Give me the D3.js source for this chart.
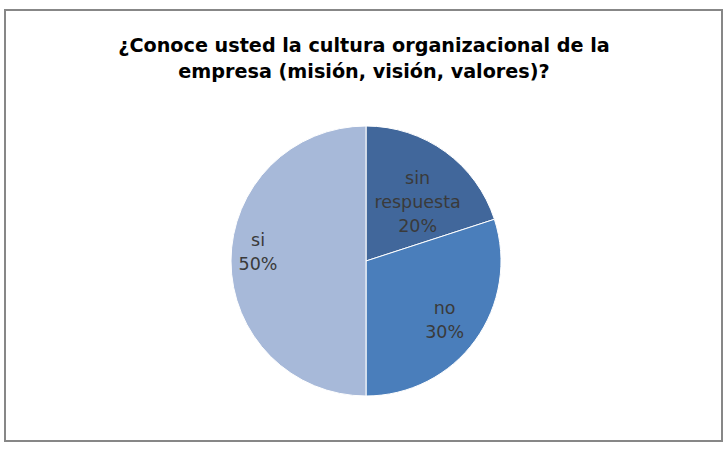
<!DOCTYPE html>
<html>
<head>
<meta charset="utf-8">
<script src="https://cdn.jsdelivr.net/npm/d3@7"></script>
<style>
  body { margin: 0; background: #fff; }
  text { font-family: "DejaVu Sans", sans-serif; }
</style>
</head>
<body>
<script>
// data
var categories = ["sin respuesta", "no", "si"];
var values = [20, 30, 50];
var labelLines = [["sin", "respuesta", "20%"], ["no", "30%"], ["si", "50%"]];
var colors = ["#41679b", "#4a7ebb", "#a7b9d9"];
var titleLines = ["¿Conoce usted la cultura organizacional de la", "empresa (misión, visión, valores)?"];

var width = 725, height = 452;
var cx = 366, cy = 261, radius = 135;
// where each label sits: fraction of the radius, and a small vertical nudge
var labelRadius = [0.65, 0.72, 0.8];
var labelNudge = [12, 2, -9];

var svg = d3.select("body").append("svg")
    .attr("width", width)
    .attr("height", height);

// chart border
svg.append("rect")
    .attr("x", 5).attr("y", 10)
    .attr("width", 717).attr("height", 431)
    .attr("fill", "#fff")
    .attr("stroke", "#878787")
    .attr("stroke-width", 2);

svg.selectAll(".title")
    .data(titleLines)
    .enter().append("text")
    .attr("class", "title")
    .attr("x", 364)
    .attr("y", function(d, i) { return 52 + i * 26; })
    .attr("text-anchor", "middle")
    .style("font-size", "19.2px")
    .style("font-weight", "bold")
    .attr("fill", "#000")
    .text(function(d) { return d; });

var pie = d3.pie().sort(null).value(function(d) { return d; });
var arcs = pie(values);

var arc = d3.arc().innerRadius(0).outerRadius(radius);

var g = svg.append("g").attr("transform", "translate(" + cx + "," + cy + ")");

g.selectAll("path")
    .data(arcs)
    .enter().append("path")
    .attr("d", arc)
    .attr("fill", function(d, i) { return colors[i]; })
    .attr("stroke", "#fff")
    .attr("stroke-width", 1);

var labels = g.selectAll(".lbl")
    .data(arcs)
    .enter().append("text")
    .attr("class", "lbl")
    .attr("transform", function(d, i) {
        var r = radius * labelRadius[i];
        var c = d3.arc().innerRadius(r).outerRadius(r).centroid(d);
        return "translate(" + c[0] + "," + (c[1] + labelNudge[i]) + ")";
    })
    .attr("text-anchor", "middle")
    .style("font-size", "17.5px")
    .attr("fill", "#3a3a3a");

labels.each(function(d, i) {
    var lines = labelLines[i];
    var t = d3.select(this);
    lines.forEach(function(line, j) {
        t.append("tspan")
            .attr("x", 0)
            .attr("y", (j - (lines.length - 1) / 2) * 24 + 6)
            .text(line);
    });
});
</script>
</body>
</html>
